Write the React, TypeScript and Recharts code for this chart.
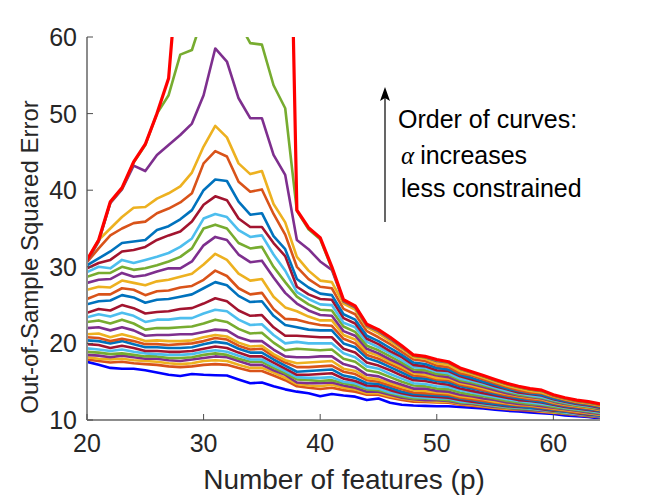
import React from 'react';
import { LineChart, Line, XAxis, YAxis } from 'recharts';

const xs = [20,21,22,23,24,25,26,27,28,29,30,31,32,33,34,35,36,37,38,39,40,41,42,43,44,45,46,47,48,49,50,51,52,53,54,55,56,57,58,59,60,61,62,63,64];
const xTicks = [20, 30, 40, 50, 60];
const yTicks = [10, 20, 30, 40, 50, 60];

const blueCurve = [17.6,17.2,16.8,16.7,16.7,16.5,16.2,15.9,15.75,16.0,15.9,15.85,15.8,15.3,14.8,14.9,14.4,14.0,13.7,13.5,13.1,13.4,13.2,13.05,12.6,12.8,12.25,12.0,11.9,11.85,11.8,11.8,11.7,11.6,11.5,11.35,11.2,11.1,11.0,10.9,10.8,10.6,10.5,10.4,10.2];
const c01 = [17.9,17.7,17.5,17.6,17.4,17.3,17.2,17.0,16.9,17.0,17.2,17.3,17.2,16.8,16.4,16.4,15.8,15.2,14.4,14.2,14.05,14.2,13.9,13.7,13.3,13.3,12.9,12.6,12.4,12.35,12.3,12.25,12.0,11.85,11.7,11.55,11.4,11.3,11.2,11.05,10.95,10.8,10.65,10.5,10.35];
const c02 = [18.2,18.0,17.9,18.0,17.8,17.7,17.6,17.4,17.3,17.4,17.7,17.8,17.7,17.2,16.8,16.8,16.2,15.5,14.7,14.5,14.4,14.6,14.2,14.0,13.5,13.5,13.1,12.8,12.6,12.5,12.4,12.4,12.1,12.0,11.8,11.6,11.5,11.4,11.3,11.1,11.0,10.9,10.7,10.6,10.4];
const c03 = [18.5,18.4,18.2,18.4,18.2,18.0,18.0,17.8,17.7,17.9,18.1,18.3,18.2,17.7,17.2,17.2,16.5,15.9,14.9,14.8,14.8,14.9,14.5,14.2,13.7,13.7,13.3,12.9,12.7,12.6,12.6,12.5,12.2,12.1,11.9,11.7,11.6,11.4,11.3,11.2,11.1,10.9,10.7,10.6,10.4];
const c04 = [18.9,18.8,18.6,18.7,18.5,18.3,18.3,18.1,18.1,18.2,18.5,18.7,18.5,18.0,17.6,17.6,16.8,16.1,15.3,15.2,15.1,15.2,14.8,14.5,14.0,13.9,13.5,13.1,12.8,12.8,12.7,12.6,12.3,12.2,12.0,11.8,11.6,11.5,11.4,11.3,11.1,10.9,10.8,10.6,10.5];
const c05 = [19.35,19.2,19.0,19.2,18.9,18.7,18.6,18.5,18.5,18.6,18.9,19.1,18.9,18.4,17.9,17.9,17.1,16.4,15.6,15.5,15.5,15.6,15.0,14.8,14.2,14.1,13.6,13.3,13.0,12.9,12.8,12.8,12.4,12.3,12.1,11.9,11.7,11.6,11.5,11.3,11.2,11.0,10.8,10.7,10.5];
const c06 = [19.9,19.8,19.4,19.7,19.4,19.0,19.0,18.9,18.9,19.0,19.3,19.6,19.4,18.8,18.3,18.3,17.5,16.7,15.9,15.9,16.0,16.1,15.4,15.1,14.5,14.4,13.9,13.5,13.2,13.1,13.0,12.9,12.6,12.4,12.2,12.0,11.8,11.7,11.6,11.4,11.2,11.1,10.9,10.7,10.6];
const c07 = [20.4,20.3,20.0,20.3,19.9,19.5,19.5,19.4,19.4,19.5,19.9,20.2,20.0,19.3,18.8,18.8,17.9,17.1,16.3,16.4,16.5,16.6,15.8,15.5,14.8,14.7,14.2,13.7,13.4,13.3,13.2,13.1,12.8,12.6,12.3,12.1,11.9,11.8,11.6,11.5,11.3,11.1,11.0,10.8,10.6];
const c08 = [20.8,20.7,20.3,20.6,20.3,19.9,19.9,19.8,19.9,20.0,20.3,20.7,20.5,19.7,19.2,19.3,18.3,17.5,16.9,16.9,17.0,17.1,16.3,16.0,15.2,15.0,14.5,14.0,13.6,13.5,13.4,13.3,12.9,12.7,12.5,12.3,12.1,11.9,11.8,11.6,11.4,11.2,11.0,10.9,10.7];
const c09 = [21.2,21.3,20.8,21.2,20.8,20.3,20.4,20.3,20.3,20.4,20.8,21.1,20.9,20.1,19.6,19.7,18.6,17.8,17.4,17.5,17.6,17.7,16.7,16.4,15.5,15.3,14.8,14.3,13.9,13.8,13.6,13.5,13.1,12.9,12.7,12.4,12.2,12.0,11.9,11.7,11.5,11.3,11.1,10.9,10.7];
const c10 = [22.0,22.1,21.7,22.1,21.7,21.0,21.1,21.1,21.2,21.2,21.5,21.8,21.7,20.8,20.3,20.3,19.2,18.3,18.2,18.2,18.3,18.3,17.3,16.9,15.9,15.7,15.1,14.6,14.1,14.1,13.8,13.7,13.3,13.1,12.8,12.6,12.3,12.1,12.0,11.8,11.6,11.4,11.2,11.0,10.8];
const c11 = [22.8,23.0,22.6,23.1,22.6,21.8,22.0,22.0,22.1,22.2,22.6,23.1,22.8,21.9,21.3,21.4,20.1,19.1,19.3,19.2,19.1,19.2,18.0,17.6,16.5,16.2,15.6,15.0,14.5,14.4,14.1,14.0,13.6,13.3,13.1,12.8,12.5,12.3,12.1,12.0,11.7,11.5,11.3,11.1,10.9];
const c12 = [23.4,23.8,23.5,24.0,23.6,22.8,23.1,23.1,23.3,23.3,23.9,24.4,24.2,23.1,22.4,22.5,21.1,20.0,20.2,20.0,20.0,20.0,18.7,18.2,17.0,16.7,16.0,15.4,14.8,14.7,14.4,14.3,13.9,13.6,13.3,13.0,12.7,12.5,12.3,12.1,11.9,11.6,11.4,11.2,11.0];
const c13 = [24.0,24.5,24.3,25.0,24.6,23.9,24.1,24.2,24.5,24.6,25.2,25.9,25.5,24.3,23.6,23.7,22.1,21.0,21.0,20.9,20.8,20.8,19.3,18.8,17.5,17.1,16.5,15.8,15.2,15.1,14.8,14.6,14.1,13.8,13.5,13.2,12.9,12.6,12.5,12.3,12.0,11.7,11.5,11.3,11.1];
const c14 = [25.1,25.5,25.6,26.3,26.0,25.3,25.7,25.8,26.1,26.4,27.2,28.0,27.6,26.2,25.4,25.5,23.6,22.4,22.1,21.8,21.7,21.7,20.0,19.5,18.1,17.6,16.9,16.2,15.5,15.4,15.1,14.9,14.4,14.1,13.8,13.4,13.1,12.8,12.6,12.4,12.1,11.8,11.6,11.4,11.2];
const c15 = [25.8,26.4,26.4,27.2,27.0,26.3,26.8,26.9,27.3,27.5,28.3,29.5,28.8,27.2,26.4,26.6,24.5,23.2,23.1,22.7,22.4,22.3,20.6,20.0,18.5,18.0,17.3,16.6,15.8,15.7,15.3,15.2,14.6,14.3,13.9,13.6,13.2,13.0,12.7,12.6,12.2,11.9,11.7,11.5,11.3];
const c16 = [27.0,27.4,27.3,28.2,27.9,27.6,28.1,28.3,28.7,29.1,30.3,31.7,30.9,29.1,28.2,28.4,26.1,24.7,24.2,23.5,23.0,23.0,21.1,20.5,18.9,18.4,17.6,16.9,16.1,15.9,15.5,15.4,14.8,14.5,14.1,13.7,13.4,13.1,12.9,12.7,12.3,12.0,11.8,11.6,11.3];
const c17 = [27.9,28.3,28.4,29.2,28.7,28.9,29.4,29.8,29.8,30.7,32.8,33.9,33.5,31.6,30.6,30.8,28.6,26.6,25.2,24.3,23.7,23.6,21.6,21.0,19.3,18.7,17.9,17.2,16.3,16.2,15.8,15.6,15.0,14.7,14.3,13.9,13.5,13.2,13.0,12.8,12.4,12.1,11.9,11.7,11.4];
const c18 = [28.7,29.2,29.2,30.0,29.6,29.8,30.2,30.7,31.3,32.4,35.0,35.5,35.0,33.1,32.4,32.6,30.0,28.0,26.1,25.1,24.4,24.3,22.2,21.5,19.7,19.1,18.3,17.5,16.6,16.5,16.0,15.9,15.2,14.9,14.5,14.1,13.7,13.3,13.1,12.9,12.5,12.2,11.9,11.7,11.5];
const c19 = [29.3,30.0,29.8,30.9,30.5,30.9,31.3,31.8,32.6,33.7,36.3,36.9,36.5,34.8,33.9,34.1,31.6,29.5,26.7,25.8,25.1,25.0,22.7,22.1,20.2,19.5,18.7,17.8,16.9,16.8,16.3,16.1,15.4,15.1,14.7,14.2,13.8,13.5,13.2,13.0,12.6,12.3,12.0,11.8,11.6];
const c20 = [29.8,30.5,30.9,32.0,32.2,32.6,33.5,34.1,34.6,35.9,38.1,39.2,38.7,36.3,35.2,35.2,33.1,31.4,27.4,26.4,25.8,25.7,23.3,22.6,20.6,19.9,19.0,18.2,17.2,17.0,16.5,16.4,15.7,15.3,14.9,14.4,14.0,13.6,13.4,13.2,12.7,12.4,12.1,11.9,11.6];
const c21 = [30.2,31.1,32.0,33.1,33.3,33.5,34.8,35.3,36.2,37.4,40.0,41.4,41.2,38.5,36.8,37.0,34.0,32.3,28.4,27.3,26.5,26.3,23.8,23.1,21.0,20.3,19.4,18.5,17.5,17.3,16.8,16.6,15.9,15.5,15.0,14.6,14.1,13.8,13.5,13.3,12.8,12.5,12.2,12.0,11.7];
const c22 = [30.6,32.4,34.1,35.0,35.7,35.9,37.0,37.6,38.4,39.6,43.5,45.1,44.4,41.1,39.8,40.1,36.9,34.2,30.0,28.4,27.4,27.2,24.5,23.8,21.6,20.8,19.9,18.9,17.9,17.7,17.1,16.9,16.1,15.8,15.3,14.8,14.3,13.9,13.6,13.5,13.0,12.6,12.3,12.1,11.8];
const c23 = [30.8,33.5,35.0,36.5,37.7,37.8,38.9,39.6,40.5,42.3,45.7,48.4,46.9,43.5,42.1,42.5,38.2,35.8,31.3,29.5,28.2,28.0,25.2,24.4,22.1,21.3,20.3,19.3,18.2,18.0,17.4,17.2,16.4,16.0,15.5,15.0,14.5,14.1,13.8,13.6,13.1,12.7,12.4,12.2,11.9];
const c24 = [30.7,33.3,38.3,40.1,43.2,42.5,44.6,45.9,47.2,48.7,52.4,58.5,56.8,52.0,49.4,49.4,44.6,42.0,33.5,32.3,30.7,29.6,25.5,24.7,22.3,21.6,20.6,19.5,18.4,18.2,17.7,17.5,16.7,16.2,15.7,15.2,14.7,14.3,14.0,13.8,13.2,12.8,12.5,12.3,12.0];
const c25 = [30.8,33.4,38.4,40.2,43.6,45.9,50.0,52.4,57.7,58.3,63,66,65,62,59.2,59.0,53.7,50.7,37.3,34.9,33.6,29.8,25.6,24.8,22.4,21.7,20.7,19.6,18.4,18.2,17.8,17.5,16.7,16.2,15.7,15.2,14.7,14.3,14.0,13.8,13.2,12.8,12.5,12.3,12.0];
const redCurve = [30.9,33.5,38.5,40.3,43.7,46.0,50.0,54.6,73,95,120,140,150,145,140,130,125,113,37.4,35.1,33.8,30.0,25.7,24.9,22.5,21.8,20.8,19.7,18.5,18.3,17.9,17.6,16.8,16.3,15.8,15.3,14.8,14.4,14.1,13.9,13.3,12.9,12.6,12.4,12.1];

const MATLAB = ['#0072BD', '#D95319', '#EDB120', '#7E2F8E', '#77AC30', '#4DBEEE', '#A2142F'];
const middle = [c01, c02, c03, c04, c05, c06, c07, c08, c09, c10, c11, c12, c13, c14, c15, c16, c17, c18, c19, c20, c21, c22, c23, c24, c25];

const series = [
  { key: 'blue', values: blueCurve, color: '#0000FF', width: 2.6 },
  ...middle.map((v, i) => ({ key: 'c' + (i + 1), values: v, color: MATLAB[(i + 1) % 7], width: 2.6 })),
  { key: 'red', values: redCurve, color: '#FF0000', width: 3.2 },
];

const rows = xs.map((x, i) => {
  const r: Record<string, number> = { x };
  series.forEach((s) => { r[s.key] = s.values[i]; });
  return r;
});

const FONT = '"Liberation Sans", Arial, Helvetica, sans-serif';
const TXT = '#262626';
const TICK = '#4d4d4d';

const BottomTick = (p: any) => (
  <g>
    <line x1={p.x} y1={p.y} x2={p.x} y2={p.y - 6} stroke={TICK} strokeWidth={1} />
    <text x={p.x} y={p.y + 32} textAnchor="middle" fontSize={25} fill={TXT} fontFamily={FONT}>{p.payload.value}</text>
  </g>
);
const TopTick = (p: any) => (
  <line x1={p.x} y1={p.y} x2={p.x} y2={p.y + 6} stroke={TICK} strokeWidth={1} />
);
const LeftTick = (p: any) => (
  <g>
    <line x1={p.x} y1={p.y} x2={p.x + 6} y2={p.y} stroke={TICK} strokeWidth={1} />
    <text x={p.x - 10} y={p.y + 9} textAnchor="end" fontSize={25} fill={TXT} fontFamily={FONT}>{p.payload.value}</text>
  </g>
);
const RightTick = (p: any) => (
  <line x1={p.x} y1={p.y} x2={p.x - 6} y2={p.y} stroke={TICK} strokeWidth={1} />
);

export default function App() {
  const W = 640;
  const H = 490;
  return (
    <div style={{ position: 'relative', width: W, height: H }}>
      <LineChart width={W} height={H} data={rows} margin={{ top: 29, right: 48, bottom: 38, left: 19 }}>
        <XAxis xAxisId="b" dataKey="x" type="number" domain={[20, 64]} allowDataOverflow ticks={xTicks}
          height={40} tickSize={0} tickMargin={0} tickLine={false} tick={BottomTick}
          axisLine={{ stroke: '#8c8c8c', strokeWidth: 2 }} />
        <XAxis xAxisId="t" dataKey="x" type="number" orientation="top" domain={[20, 64]} allowDataOverflow ticks={xTicks}
          height={0} tickSize={0} tickMargin={0} tickLine={false} tick={TopTick}
          axisLine={{ stroke: '#3a3a3a', strokeWidth: 1.2 }} />
        <YAxis yAxisId="l" type="number" domain={[10, 60]} allowDataOverflow ticks={yTicks}
          width={60} tickSize={0} tickMargin={0} tickLine={false} tick={LeftTick}
          axisLine={{ stroke: '#8c8c8c', strokeWidth: 2 }} />
        <YAxis yAxisId="r" type="number" orientation="right" domain={[10, 60]} allowDataOverflow ticks={yTicks}
          width={0} tickSize={0} tickMargin={0} tickLine={false} tick={RightTick}
          axisLine={{ stroke: '#8c8c8c', strokeWidth: 1.5 }} />
        {series.map((s) => (
          <Line key={s.key} xAxisId="b" yAxisId="l" dataKey={s.key} type="linear" stroke={s.color}
            strokeWidth={s.width} dot={false} activeDot={false} isAnimationActive={false}
            strokeLinejoin="round" strokeLinecap="round" />
        ))}
      </LineChart>
      <svg width={W} height={H} style={{ position: 'absolute', left: 0, top: 0, pointerEvents: 'none', overflow: 'visible' }}>
        <text x={336} y={481} textAnchor="middle" fontSize={28} fill={TXT} fontFamily={FONT}>Number of features (p)</text>
        <text x={30} y={249} transform="rotate(-90, 30, 249)" textAnchor="middle" fontSize={24} fill={TXT} fontFamily={FONT}>Out-of-Sample Squared Error</text>
        <line x1={377} y1={214} x2={377} y2={88} stroke="#000" strokeWidth={1.2} />
        <polygon points="377,79 372,93 377,90 382,93" fill="#000" />
        <text x={390} y={120} fontSize={25} fill="#000" fontFamily={FONT}>Order of curves:</text>
        <text x={393} y={156} fontSize={25} fill="#000" fontFamily={FONT}>
          <tspan fontStyle="italic" fontFamily='"Liberation Serif", "DejaVu Serif", serif' fontSize={25}>α</tspan>
          <tspan dx={6}>increases</tspan>
        </text>
        <text x={393} y={189} fontSize={25} fill="#000" fontFamily={FONT}>less constrained</text>
      </svg>
    </div>
  );
}
